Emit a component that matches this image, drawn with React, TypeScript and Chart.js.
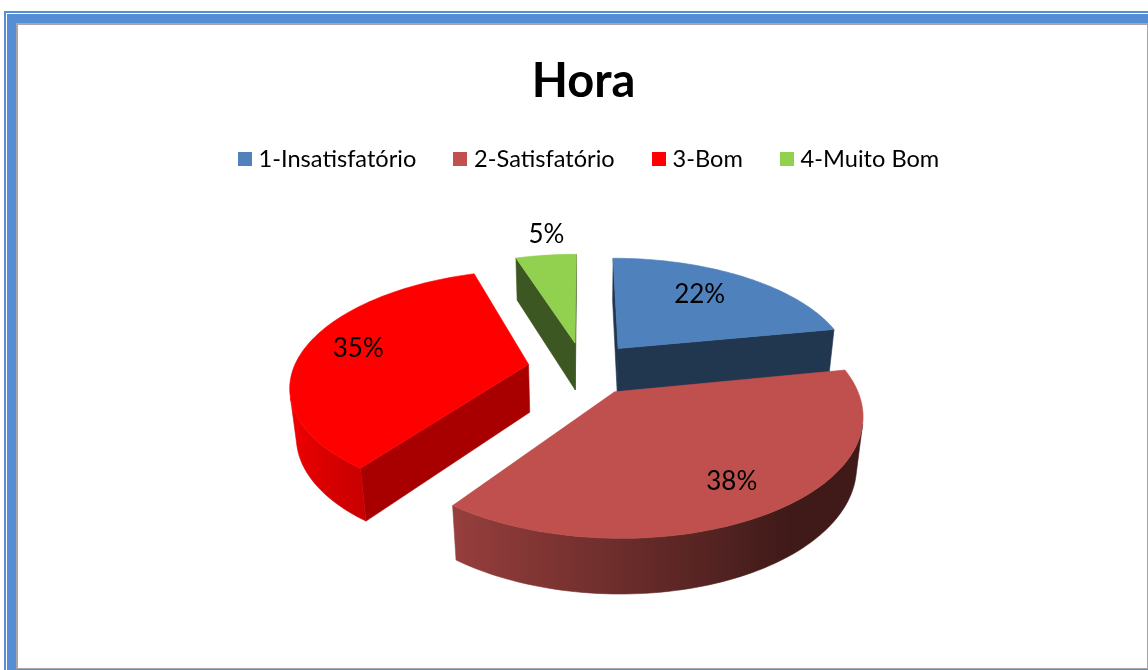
import React, { useEffect, useRef } from "react";
import { Chart, ArcElement, PieController, Legend, Title } from "chart.js";

const categories = ["1-Insatisfatório", "2-Satisfatório", "3-Bom", "4-Muito Bom"];
const values = [22, 38, 35, 5];
const colors = ["#4f81bd", "#c0504d", "#ff0000", "#92d050"];
const sideWallShade = [0.42, 0.42, 0.66, 0.42];
const labelReach = [0.68, 0.78, 0.765, 1.27];
const labelTurn = [-0.04, 0.01, 0.02, 0.025];

const TILT = (28.5 * Math.PI) / 180;
const CAMERA = 1200;
const DEPTH = 56;

function shade(hex: string, f: number) {
  const n = parseInt(hex.slice(1), 16);
  const c = (v: number) => Math.round(Math.min(255, v * f));
  return `rgb(${c((n >> 16) & 255)},${c((n >> 8) & 255)},${c(n & 255)})`;
}

// world: px right, py away from the viewer, pz up; origin at the pie centre
function project(cx: number, cy: number, px: number, py: number, pz: number): [number, number] {
  const v = py * Math.sin(TILT) + pz * Math.cos(TILT);
  const w = py * Math.cos(TILT) - pz * Math.sin(TILT);
  const s = CAMERA / (CAMERA + w);
  return [cx + px * s, cy - v * s];
}

function area(p: [number, number][]) {
  let a = 0;
  for (let i = 0; i < p.length; i++) {
    const q = p[(i + 1) % p.length];
    a += p[i][0] * q[1] - q[0] * p[i][1];
  }
  return a;
}

function fillPoly(ctx: CanvasRenderingContext2D, p: [number, number][], fill: any) {
  ctx.beginPath();
  p.forEach((q, i) => (i ? ctx.lineTo(q[0], q[1]) : ctx.moveTo(q[0], q[1])));
  ctx.closePath();
  ctx.fillStyle = fill;
  ctx.strokeStyle = fill;
  ctx.lineWidth = 0.6;
  ctx.fill();
  ctx.stroke();
}

class Arc3D extends ArcElement {
  static id = "arc3d";
  draw(ctx: CanvasRenderingContext2D) {
    const { x, y, startAngle, endAngle, outerRadius } = (this as any).getProps(
      ["x", "y", "startAngle", "endAngle", "outerRadius"],
      false
    );
    const o: any = (this as any).options;
    const mid = (startAngle + endAngle) / 2;
    const ox = Math.cos(mid) * o.offset;
    const oy = -Math.sin(mid) * o.offset;
    const color: string = o.backgroundColor;
    const sideFactor = Number(o.borderColor);
    const top = (a: number, r: number): [number, number] =>
      project(x, y, ox + Math.cos(a) * r, oy - Math.sin(a) * r, 0);
    const bot = (a: number, r: number): [number, number] =>
      project(x, y, ox + Math.cos(a) * r, oy - Math.sin(a) * r, -DEPTH);

    const steps = Math.max(8, Math.ceil((endAngle - startAngle) * 40));
    const startQuad = [top(startAngle, 0), top(startAngle, outerRadius), bot(startAngle, outerRadius), bot(startAngle, 0)];
    const endQuad = [top(endAngle, 0), top(endAngle, outerRadius), bot(endAngle, outerRadius), bot(endAngle, 0)];
    if (area(startQuad) < 0) fillPoly(ctx, startQuad, shade(color, sideFactor));
    if (area(endQuad) > 0) fillPoly(ctx, endQuad, shade(color, sideFactor));

    // curved outer wall: one polygon over the visible angles, shaded left to right
    const seen: number[] = [];
    for (let i = 0; i <= steps; i++) {
      const a1 = startAngle + ((endAngle - startAngle) * i) / steps;
      const a2 = a1 + (endAngle - startAngle) / steps;
      if (area([top(a1, outerRadius), top(a2, outerRadius), bot(a2, outerRadius), bot(a1, outerRadius)]) < 0) seen.push(a1);
    }
    if (seen.length > 1) {
      const upper = seen.map((a) => top(a, outerRadius));
      const lower = seen.map((a) => bot(a, outerRadius)).reverse();
      const xs = [...upper, ...lower].map((p) => p[0]);
      const x0 = Math.min(...xs);
      const x1 = Math.max(...xs);
      const grad = ctx.createLinearGradient(x0, 0, x1, 0);
      seen.forEach((a) => {
        const nx = Math.cos(a);
        const f = nx > 0.6 ? 0.33 : 0.56 - 0.38 * nx;
        grad.addColorStop((bot(a, outerRadius)[0] - x0) / (x1 - x0 || 1), shade(color, f));
      });
      fillPoly(ctx, [...upper, ...lower], grad);
    }

    const face: [number, number][] = [top(startAngle, 0)];
    for (let i = 0; i <= steps; i++) {
      face.push(top(startAngle + ((endAngle - startAngle) * i) / steps, outerRadius));
    }
    fillPoly(ctx, face, color);
  }
}

class Pie3DController extends PieController {
  static id = "pie3d";
  static defaults = { ...PieController.defaults, dataElementType: "arc3d" };
  static overrides = PieController.overrides;
}

const percentLabels = {
  id: "percentLabels",
  afterLayout(chart: any) {
    chart.legend.left += 7.5;
    chart.legend.right += 7.5;
  },
  afterDatasetsDraw(chart: any) {
    const { ctx } = chart;
    const total = values.reduce((a, b) => a + b, 0);
    ctx.save();
    ctx.font = '400 26px "Lato"';
    ctx.fillStyle = "#000";
    ctx.textAlign = "center";
    ctx.textBaseline = "middle";
    chart.getDatasetMeta(0).data.forEach((arc: any, i: number) => {
      const mid = (arc.startAngle + arc.endAngle) / 2 + labelTurn[i];
      const r = arc.outerRadius * labelReach[i] + arc.options.offset;
      const [lx, ly] = project(arc.x, arc.y, Math.cos(mid) * r, -Math.sin(mid) * r, 0);
      ctx.fillText(`${Math.round((values[i] / total) * 100)}%`, lx, ly - 1);
    });
    ctx.restore();
  },
};

function swatch(color: string) {
  const c = document.createElement("canvas");
  c.width = 14;
  c.height = 14;
  const g = c.getContext("2d")!;
  g.fillStyle = color;
  g.fillRect(0, 0, 14, 14);
  return c;
}

Chart.register(ArcElement, Arc3D, Pie3DController, Legend, Title, percentLabels);

const bar = (s: React.CSSProperties): React.CSSProperties => ({ position: "absolute", ...s });

export default function App() {
  const ref = useRef<HTMLCanvasElement>(null);
  useEffect(() => {
    document.body.style.margin = "0";
    const chart = new Chart(ref.current!, {
      type: "pie3d" as any,
      data: {
        labels: categories,
        datasets: [
          {
            data: values,
            backgroundColor: colors,
            borderColor: sideWallShade as any,
            offset: 56,
            radius: 235,
          } as any,
        ],
      },
      options: {
        responsive: false,
        animation: false,
        events: [],
        layout: { padding: { left: 19, top: 54, bottom: 114 } },
        plugins: {
          title: {
            display: true,
            text: "Hora",
            color: "#000",
            font: { family: "Lato", size: 47, weight: "bold" },
            padding: { top: 0, bottom: -5 },
          },
          legend: {
            position: "top",
            labels: {
              color: "#000",
              font: { family: "Lato", size: 23.6 },
              usePointStyle: true,
              pointStyleWidth: 4,
              padding: 42,
              generateLabels: () =>
                categories.map((text, i) => ({
                  text,
                  pointStyle: swatch(colors[i]),
                  fontColor: "#000",
                  datasetIndex: 0,
                  index: i,
                })) as any,
            },
          },
        },
      } as any,
    });
    return () => chart.destroy();
  }, []);
  return (
    <div style={{ position: "fixed", left: 0, top: 0, width: 1148, height: 670, background: "#fff", overflow: "hidden" }}>
      <div style={bar({ left: 4, top: 11, width: 1144, height: 659, background: "#558ed5" })} />
      <div style={bar({ left: 6, top: 13, width: 1142, height: 1, background: "#fff" })} />
      <div style={bar({ left: 6, top: 13, width: 1, height: 657, background: "#fff" })} />
      <div style={bar({ left: 16, top: 23, width: 1132, height: 646, background: "#a6a6a6" })} />
      <div style={bar({ left: 18, top: 25, width: 1129, height: 643, background: "#fff" })} />
      <canvas ref={ref} width={1148} height={670} style={{ position: "absolute", left: 0, top: 0, display: "block" }} />
    </div>
  );
}
